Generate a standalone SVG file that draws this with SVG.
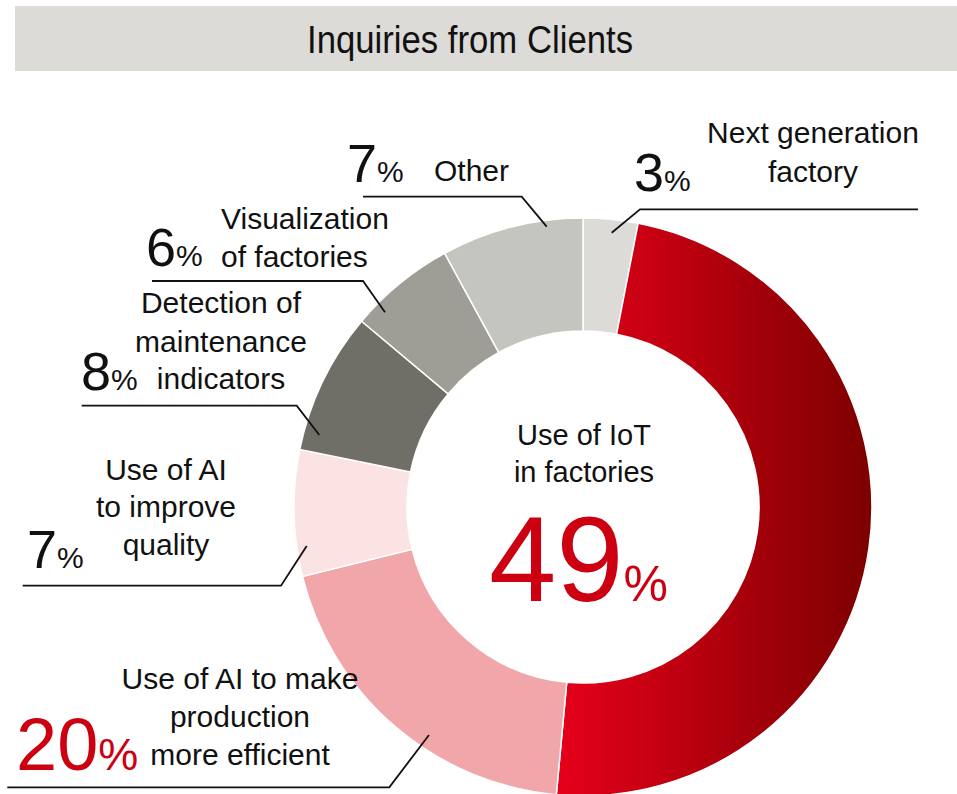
<svg xmlns="http://www.w3.org/2000/svg" width="957" height="794" viewBox="0 0 957 794">
<defs>
<linearGradient id="redGrad" gradientUnits="userSpaceOnUse" x1="557" y1="0" x2="872" y2="0">
<stop offset="0" stop-color="#e6001a"/>
<stop offset="1" stop-color="#7d0000"/>
</linearGradient>
<style>
.lbl{font-family:"Liberation Sans",Arial,sans-serif;font-size:30px;fill:#111}
.mid{text-anchor:middle}
.big{font-family:"Liberation Sans",Arial,sans-serif;font-size:54px;fill:#111}
.pc{font-size:30px}
.red{fill:#cc0010}
.seg{stroke:#ffffff;stroke-width:1.5}
.lead{fill:none;stroke:#111;stroke-width:1.8}
</style>
</defs>
<rect width="957" height="794" fill="#ffffff"/>
<g id="header">
<rect x="15" y="6" width="942" height="65" fill="#dcdbd7"/>
<text x="470" y="53" class="lbl mid" style="font-size:38px" textLength="326" lengthAdjust="spacingAndGlyphs">Inquiries from Clients</text>
</g>
<g id="donut">
<path id="seg-next" class="seg" fill="#dcdbd7" d="M583,218 A289,289 0 0 1 638.14,223.31 L616.58,334.23 A176,176 0 0 0 583,331 Z"/>
<path id="seg-iot" class="seg" fill="url(#redGrad)" d="M638.14,223.31 A289,289 0 0 1 556.31,794.76 L566.74,682.25 A176,176 0 0 0 616.58,334.23 Z"/>
<path id="seg-ai-eff" class="seg" fill="#f1a7a9" d="M556.31,794.76 A289,289 0 0 1 302.46,576.43 L412.15,549.28 A176,176 0 0 0 566.74,682.25 Z"/>
<path id="seg-ai-qual" class="seg" fill="#fbe3e3" d="M302.46,576.43 A289,289 0 0 1 299.80,449.38 L410.53,471.91 A176,176 0 0 0 412.15,549.28 Z"/>
<path id="seg-detect" class="seg" fill="#6f6e67" d="M299.80,449.38 A289,289 0 0 1 361.61,321.23 L448.18,393.87 A176,176 0 0 0 410.53,471.91 Z"/>
<path id="seg-visual" class="seg" fill="#9e9d96" d="M361.61,321.23 A289,289 0 0 1 444.66,253.26 L498.75,352.48 A176,176 0 0 0 448.18,393.87 Z"/>
<path id="seg-other" class="seg" fill="#c5c5bf" d="M444.66,253.26 A289,289 0 0 1 583,218 L583,331 A176,176 0 0 0 498.75,352.48 Z"/>
</g>
<g id="connectors">
<polyline class="lead" points="918,209.3 640,209.3 611.7,232.7"/>
<polyline class="lead" points="363,196.7 521.7,196.7 546.7,226.7"/>
<polyline class="lead" points="152,281 363,281 385,312.3"/>
<polyline class="lead" points="81.7,405.7 296.7,405.7 319.3,435"/>
<polyline class="lead" points="22.7,585.7 281,585.7 306.7,546"/>
<polyline class="lead" points="7.3,787.3 389.3,787.3 429,735"/>
</g>
<g id="node-center">
<text x="584" y="444.5" class="lbl mid" style="font-size:29px">Use of IoT</text>
<text x="584" y="481.5" class="lbl mid" style="font-size:29px">in factories</text>
<text x="489" y="601" class="big red" style="font-size:121px">49<tspan style="font-size:50px">%</tspan></text>
</g>
<g id="node-next">
<text x="813" y="143.3" class="lbl mid">Next generation</text>
<text x="813" y="181.7" class="lbl mid">factory</text>
<text x="634" y="190.5" class="big">3<tspan class="pc">%</tspan></text>
</g>
<g id="node-other">
<text x="434" y="181" class="lbl">Other</text>
<text x="347" y="181.5" class="big">7<tspan class="pc">%</tspan></text>
</g>
<g id="node-visual">
<text x="221" y="229" class="lbl">Visualization</text>
<text x="221" y="266.7" class="lbl">of factories</text>
<text x="146" y="266" class="big">6<tspan class="pc">%</tspan></text>
</g>
<g id="node-detect">
<text x="221" y="312.7" class="lbl mid">Detection of</text>
<text x="221" y="352" class="lbl mid">maintenance</text>
<text x="221" y="389" class="lbl mid">indicators</text>
<text x="81" y="389.5" class="big">8<tspan class="pc">%</tspan></text>
</g>
<g id="node-ai-qual">
<text x="166" y="480" class="lbl mid">Use of AI</text>
<text x="166" y="517" class="lbl mid">to improve</text>
<text x="166" y="555" class="lbl mid">quality</text>
<text x="27" y="568" class="big">7<tspan class="pc">%</tspan></text>
</g>
<g id="node-ai-eff">
<text x="240" y="688.5" class="lbl mid">Use of AI to make</text>
<text x="240" y="726.5" class="lbl mid">production</text>
<text x="240" y="765" class="lbl mid">more efficient</text>
<text x="16" y="770" class="big red" style="font-size:74px">20<tspan style="font-size:45px">%</tspan></text>
</g>
</svg>
